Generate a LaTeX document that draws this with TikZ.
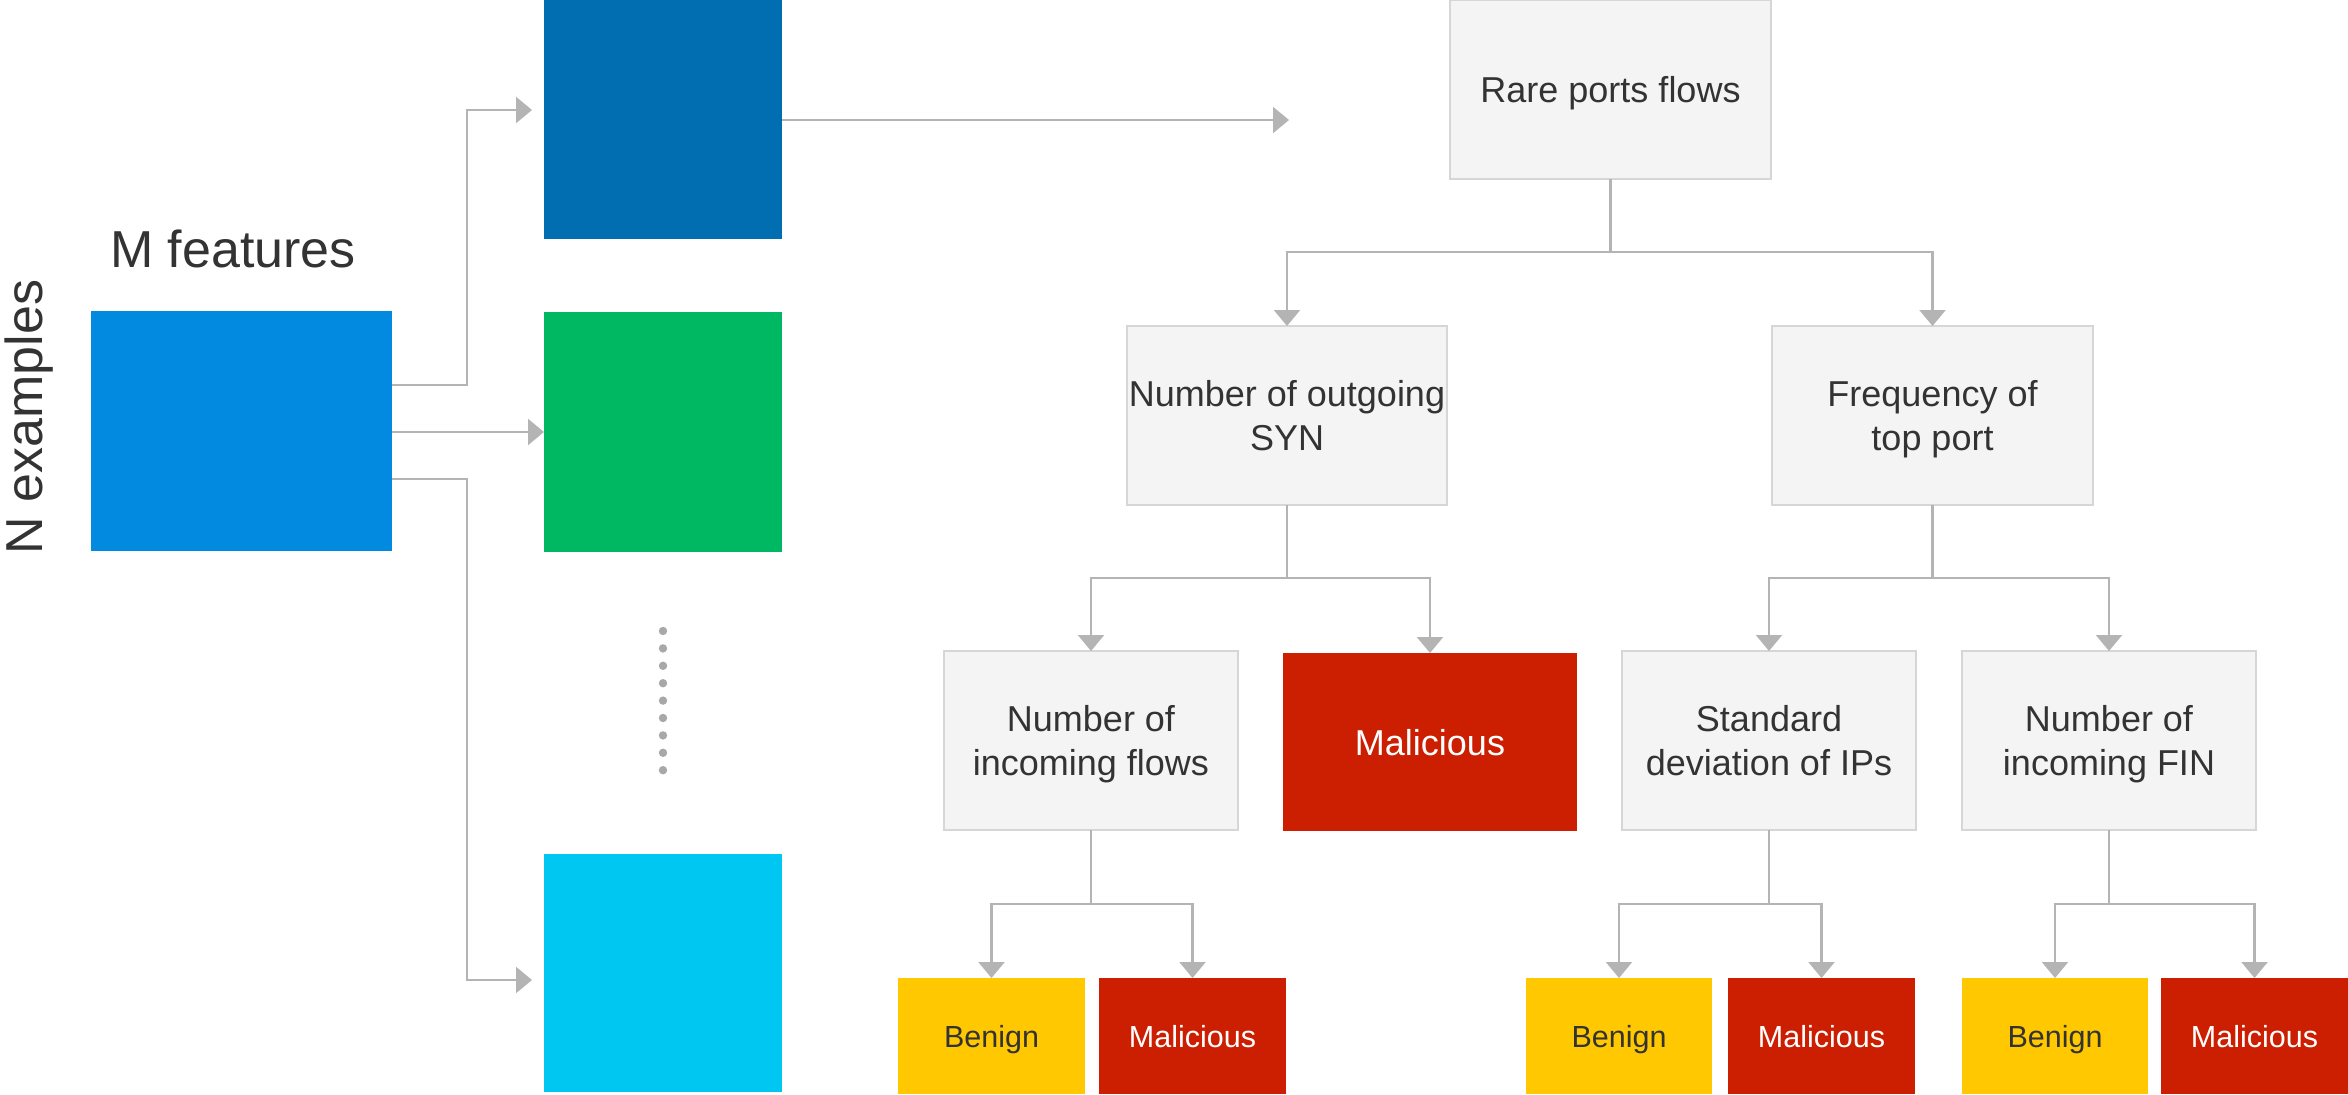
\documentclass[tikz,border=0pt]{standalone}
\usepackage{fontspec}
\setmainfont{Liberation Sans}
\usetikzlibrary{arrows.meta}

\definecolor{txt}{HTML}{333333}
\definecolor{linkc}{HTML}{B4B4B4}
\definecolor{boxfill}{HTML}{F4F4F4}
\definecolor{boxline}{HTML}{D6D6D6}
\definecolor{mblue}{HTML}{028AE0}
\definecolor{dblue}{HTML}{006EB1}
\definecolor{tgreen}{HTML}{00B862}
\definecolor{tcyan}{HTML}{00C7F2}
\definecolor{malred}{HTML}{CC1E00}
\definecolor{benyel}{HTML}{FFC800}
\definecolor{dotc}{HTML}{A8A8A8}

\tikzset{
  block/.style={rectangle, inner sep=0pt, outer sep=0pt, draw=none},
  split/.style={rectangle, inner sep=0pt, outer sep=0pt, fill=boxfill,
    draw=boxline, line width=1.5pt, text=txt, align=center,
    font=\fontsize{36}{44}\selectfont, text depth=0pt},
  bigleaf/.style={rectangle, inner sep=0pt, outer sep=0pt, fill=malred,
    text=white, font=\fontsize{36}{44}\selectfont, text depth=0pt},
  benign/.style={rectangle, inner sep=0pt, outer sep=0pt, fill=benyel,
    text=txt, font=\fontsize{30.5}{36}\selectfont, text depth=0pt,
    minimum height=116pt},
  malicious/.style={rectangle, inner sep=0pt, outer sep=0pt, fill=malred,
    text=white, font=\fontsize{30.5}{36}\selectfont, text depth=0pt,
    minimum height=116pt},
  link/.style={draw=linkc, line width=2.2pt,
    -{Triangle[length=16pt,width=26pt]}},
  plainlink/.style={draw=linkc, line width=2.2pt},
  label/.style={text=txt, font=\fontsize{52}{60}\selectfont, inner sep=0pt}
}

\begin{document}
\begin{tikzpicture}[x=1pt, y=-1pt]
\useasboundingbox[fill=white] (0,0) rectangle (2348,1095);

% data matrix and its labels
\node[block, fill=mblue, minimum width=301pt, minimum height=240pt] (mfeat) at (241.5,431) {};
\node[label, anchor=base] (mlabel) at (233,267) {M features};
\node[label, anchor=base, rotate=90] (nlabel) at (42,417) {N examples};

% bootstrap samples
\node[block, fill=dblue,  minimum width=238pt, minimum height=239pt] (b1) at (663,119.5) {};
\node[block, fill=tgreen, minimum width=238pt, minimum height=240pt] (b2) at (663,432) {};
\node[block, fill=tcyan,  minimum width=238pt, minimum height=238pt] (b3) at (663,973) {};
\foreach \k in {0,...,8}
  \fill[dotc] (663,{631+17.4*\k}) circle[radius=4.2pt];

% decision tree
\node[split, minimum width=321pt, minimum height=179pt] (rare) at (1610.5,89.5) {Rare ports flows};
\node[split, minimum width=320pt, minimum height=179pt] (syn) at (1287,415.5) {Number of outgoing\\SYN};
\node[split, minimum width=321pt, minimum height=179pt] (freq) at (1932.5,415.5) {Frequency of\\top port};
\node[split, minimum width=294pt, minimum height=179pt] (inflow) at (1091,740.5) {Number of\\incoming flows};
\node[bigleaf, minimum width=294pt, minimum height=178pt] (mal1) at (1430,742) {Malicious};
\node[split, minimum width=294pt, minimum height=179pt] (stddev) at (1769,740.5) {Standard\\deviation of IPs};
\node[split, minimum width=294pt, minimum height=179pt] (fin) at (2109,740.5) {Number of\\incoming FIN};

\node[benign,    minimum width=187pt] (ben1) at (991.5,1036) {Benign};
\node[malicious, minimum width=187pt] (mal2) at (1192.5,1036) {Malicious};
\node[benign,    minimum width=186pt] (ben2) at (1619,1036) {Benign};
\node[malicious, minimum width=187pt] (mal3) at (1821.5,1036) {Malicious};
\node[benign,    minimum width=186pt] (ben3) at (2055,1036) {Benign};
\node[malicious, minimum width=187pt] (mal4) at (2254.5,1036) {Malicious};

% connectors from the data matrix to the samples
\draw[link] ([yshift=46pt]mfeat.east) -- ++(75,0) |- ([xshift=-12pt,yshift=9.5pt]b1.west);
\draw[link] (mfeat.east |- b2.west) -- (b2.west);
\draw[link] ([yshift=-48pt]mfeat.east) -- ++(75,0) |- ([xshift=-12pt,yshift=-7pt]b3.west);

% sample feeding the tree
\coordinate (treein) at (1289,120);
\draw[link] (b1.east |- treein) -- (treein);

% tree branches
\foreach \p/\c in {rare/syn, rare/freq, syn/inflow, syn/mal1, freq/stddev, freq/fin}
  \draw[link] (\p.south) -- ++(0,73) -| (\c.north);
\foreach \p/\c in {inflow/ben1, inflow/mal2, stddev/ben2, stddev/mal3, fin/ben3, fin/mal4}
  \draw[link] (\p.south) -- ++(0,74) -| (\c.north);
\end{tikzpicture}
\end{document}
